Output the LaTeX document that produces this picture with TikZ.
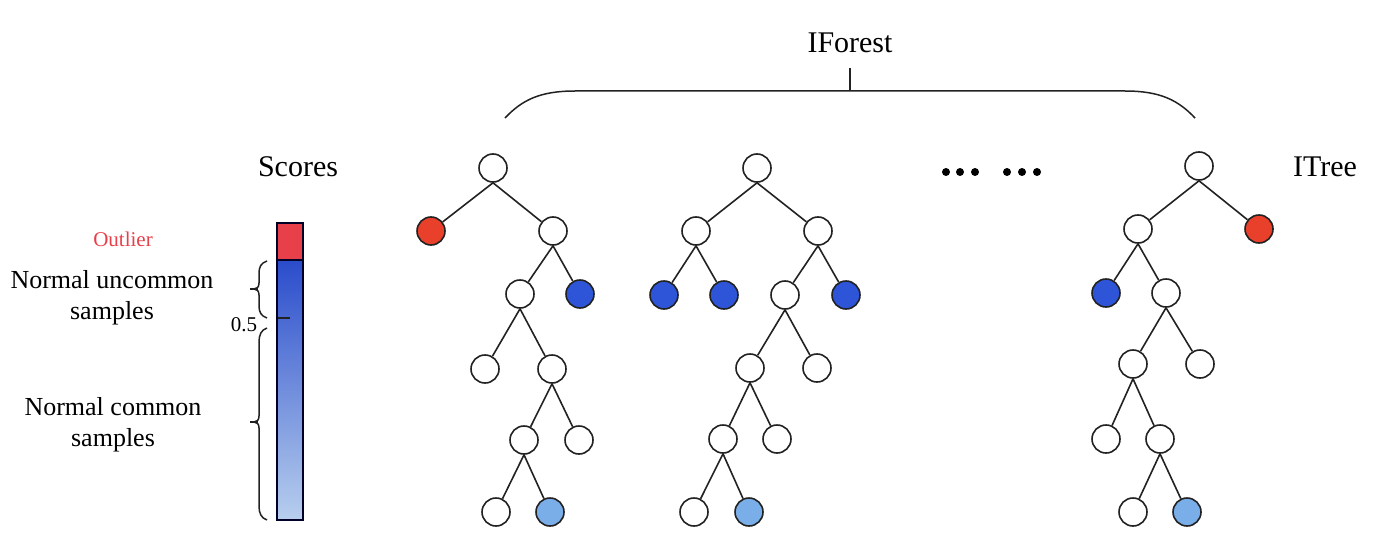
\documentclass[tikz,border=0pt]{standalone}
\usepackage{fontspec}
\setmainfont{Liberation Serif}
\definecolor{nred}{HTML}{E8402A}
\definecolor{nblue}{HTML}{2E55D8}
\definecolor{nlight}{HTML}{7AAEE8}
\definecolor{barred}{HTML}{E8404A}
\definecolor{bartop}{HTML}{2A4CCB}
\definecolor{barbot}{HTML}{B8CFEE}
\definecolor{edgec}{HTML}{222222}
\begin{document}
\begin{tikzpicture}[x=0.5pt,y=-0.5pt,
  tn/.style={circle,draw=edgec,line width=0.8pt,fill=white,minimum size=14pt,inner sep=0pt},
  rn/.style={tn,fill=nred},
  bn/.style={tn,fill=nblue},
  ln/.style={tn,fill=nlight},
  dotn/.style={circle,fill=black,minimum size=4pt,inner sep=0pt},
  edge/.style={draw=edgec,line width=0.8pt},
  lab/.style={font=\fontsize{15}{18}\selectfont,inner sep=0pt},
  side/.style={font=\fontsize{13}{15.5}\selectfont,align=center,inner sep=0pt},
  small/.style={font=\fontsize{10.5}{12}\selectfont,inner sep=0pt},
  brace/.style={draw=edgec,line width=0.75pt}]
\useasboundingbox (0,0) rectangle (1374,540);
% labels
\node[lab] (iforest) at (850,43) {IForest};
\node[lab] (scores) at (298,167) {Scores};
\node[lab] (itree) at (1325,167) {ITree};
\node[small,text=barred] (outlier) at (123,239) {Outlier};
\node[side] (unc) at (112,297.5) {Normal uncommon\\samples};
\node[side] (com) at (113,424.5) {Normal common\\samples};
\node[small] (half) at (244,325) {0.5};
% top brace
\coordinate (stemtop) at (850,68);
\coordinate (stembot) at (850,91);
\draw[brace] (505,118) .. controls (522,100) and (540,91) .. (575,91) -- (1125,91) .. controls (1160,91) and (1178,100) .. (1195,118);
\draw[brace] (stemtop) -- (stembot);
% score bar
\shade[top color=bartop,bottom color=barbot] (277,260) rectangle (303,520);
\fill[barred] (277,223) rectangle (303,260);
\draw[draw=black!85!blue,line width=0.75pt] (277,223) rectangle (303,520);
\draw[draw=black!85!blue,line width=0.75pt] (277,260) -- (303,260);
\draw[brace] (278,318) -- (290,318);
% side braces
\draw[brace] (267,261) .. controls (261,263) and (259,267) .. (259,273) -- (259,283) .. controls (259,287) and (257,289) .. (254,289);
\draw[brace] (254,289) .. controls (257,289) and (259,291) .. (259,295) -- (259,306) .. controls (259,312) and (261,316) .. (267,318);
\draw[brace] (250,289) -- (258,289);
\draw[brace] (267,328) .. controls (261,330) and (259,335) .. (259,342) -- (259,416) .. controls (259,420) and (257,422) .. (254,422);
\draw[brace] (254,422) .. controls (257,422) and (259,424) .. (259,428) -- (259,506) .. controls (259,513) and (261,518) .. (267,520);
\draw[brace] (250,422) -- (258,422);
% dots
\node[dotn] (d1) at (946,172) {};
\node[dotn] (d2) at (960,172) {};
\node[dotn] (d3) at (975,172) {};
\node[dotn] (d4) at (1007,172) {};
\node[dotn] (d5) at (1022,172) {};
\node[dotn] (d6) at (1037,172) {};
% tree 1
\node[tn] (a1) at (493,168) {};
\node[rn] (a2) at (431,231) {};
\node[tn] (a3) at (553,231) {};
\node[tn] (a4) at (520,294) {};
\node[bn] (a5) at (580,294) {};
\node[tn] (a6) at (485,369) {};
\node[tn] (a7) at (552,369) {};
\node[tn] (a8) at (524,440) {};
\node[tn] (a9) at (579,440) {};
\node[tn] (a10) at (496,512) {};
\node[ln] (a11) at (550,512) {};
\foreach \p/\c in {a1/a2,a1/a3,a3/a4,a3/a5,a4/a6,a4/a7,a7/a8,a7/a9,a8/a10,a8/a11}
  \draw[edge] (\p.south) -- (\c);
% tree 2
\node[tn] (b1) at (757,168) {};
\node[tn] (b2) at (696,231) {};
\node[tn] (b3) at (818,231) {};
\node[bn] (b4) at (664,295) {};
\node[bn] (b5) at (724,295) {};
\node[tn] (b6) at (785,295) {};
\node[bn] (b7) at (846,295) {};
\node[tn] (b8) at (750,368) {};
\node[tn] (b9) at (817,368) {};
\node[tn] (b10) at (723,439) {};
\node[tn] (b11) at (777,439) {};
\node[tn] (b12) at (694,512) {};
\node[ln] (b13) at (749,512) {};
\foreach \p/\c in {b1/b2,b1/b3,b2/b4,b2/b5,b3/b6,b3/b7,b6/b8,b6/b9,b8/b10,b8/b11,b10/b12,b10/b13}
  \draw[edge] (\p.south) -- (\c);
% tree 3
\node[tn] (c1) at (1199,166) {};
\node[tn] (c2) at (1138,229) {};
\node[rn] (c3) at (1259,229) {};
\node[bn] (c4) at (1106,293) {};
\node[tn] (c5) at (1166,293) {};
\node[tn] (c6) at (1133,364) {};
\node[tn] (c7) at (1200,364) {};
\node[tn] (c8) at (1106,439) {};
\node[tn] (c9) at (1160,439) {};
\node[tn] (c10) at (1133,512) {};
\node[ln] (c11) at (1187,512) {};
\foreach \p/\c in {c1/c2,c1/c3,c2/c4,c2/c5,c5/c6,c5/c7,c6/c8,c6/c9,c9/c10,c9/c11}
  \draw[edge] (\p.south) -- (\c);
\end{tikzpicture}
\end{document}
